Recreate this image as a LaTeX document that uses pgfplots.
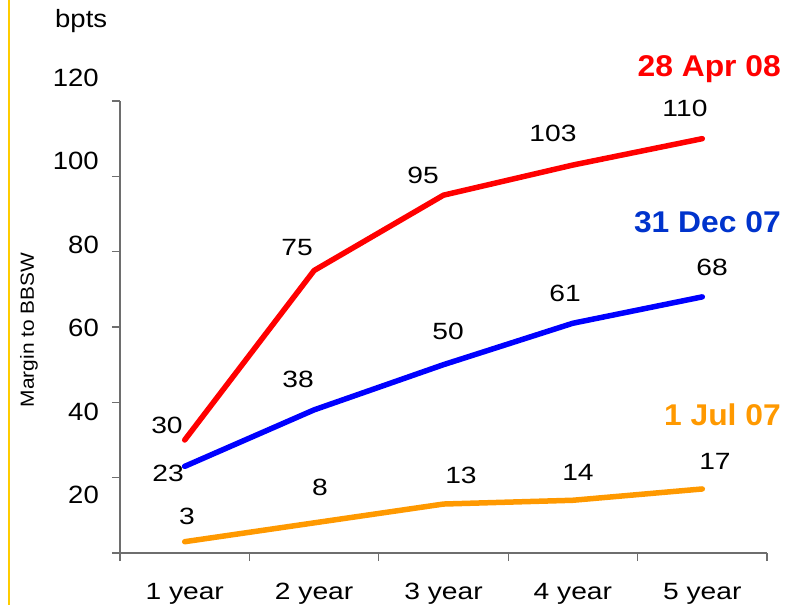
\documentclass[border=0pt]{standalone}
\usepackage{pgfplots}
\pgfplotsset{compat=1.18}
\usepackage{fontspec}
\setmainfont{Liberation Sans}
\newfontfamily\lab{Liberation Sans}[FakeStretch=1.2]
\newfontfamily\tk{Liberation Sans}[FakeStretch=1.1]
\newfontfamily\ttl{Liberation Sans}[FakeStretch=1.06]
\definecolor{lred}{RGB}{255,0,0}
\definecolor{lblue}{RGB}{0,0,255}
\definecolor{lorange}{RGB}{255,153,0}
\definecolor{tblue}{RGB}{0,51,204}
\definecolor{gold}{RGB}{255,204,0}
\definecolor{axgray}{RGB}{110,110,110}
\begin{document}
\begin{tikzpicture}
\useasboundingbox (0,0) rectangle (800pt,605pt);
\draw[gold, line width=2pt] (9pt,0) -- (9pt,605pt);
% y tick labels (placed as in the reference)
\begin{axis}[at={(120pt,26.8pt)}, anchor=south west, scale only axis,
  width=647pt, height=500.4pt, ymin=0, ymax=120, xmin=0, xmax=1,
  hide x axis, axis y line*=left, y axis line style={draw=none},
  ytick={20,40,60,80,100,120}, major tick length=0pt,
  yticklabel style={anchor=east, inner sep=0pt, xshift=-21pt, font=\tk\fontsize{25}{28}\selectfont},
  /pgf/number format/assume math mode=true]
\end{axis}
\begin{axis}[at={(120pt,52pt)}, anchor=south west, scale only axis,
  width=647pt, height=452pt, xmin=0.5, xmax=5.5, ymin=0, ymax=120,
  axis lines=left, axis line style={-, axgray, line width=1.2pt},
  xtick={0.5,1.5,2.5,3.5,4.5,5.5}, ytick={0,20,40,60,80,100,120},
  xticklabels={}, yticklabels={},
  tick align=outside, major tick length=8pt,
  tick style={axgray, line width=1.2pt},
  clip=false]
\addplot[lorange, line width=5.5pt, line cap=round, line join=round] coordinates {(1,3)(2,8)(3,13)(4,14)(5,17)};
\addplot[lblue, line width=5.5pt, line cap=round, line join=round] coordinates {(1,23)(2,38)(3,50)(4,61)(5,68)};
\addplot[lred, line width=5.5pt, line cap=round, line join=round] coordinates {(1,30)(2,75)(3,95)(4,103)(5,110)};
\begin{scope}[every node/.style={font=\lab\fontsize{23.5}{26}\selectfont, inner sep=0pt}]
\node at (axis cs:0.863,34.0) {30};
\node at (axis cs:1.868,81.2) {75};
\node at (axis cs:2.842,100.3) {95};
\node at (axis cs:3.846,111.5) {103};
\node at (axis cs:4.866,117.9) {110};
\node at (axis cs:0.871,21.2) {23};
\node at (axis cs:1.876,46.2) {38};
\node at (axis cs:3.035,58.9) {50};
\node at (axis cs:3.939,69.0) {61};
\node at (axis cs:5.075,75.7) {68};
\node at (axis cs:1.018,9.6) {3};
\node at (axis cs:2.046,17.5) {8};
\node at (axis cs:3.135,20.7) {13};
\node at (axis cs:4.039,21.5) {14};
\node at (axis cs:5.098,24.2) {17};
\node[anchor=base] at (axis cs:1,0) [yshift=-46pt] {1 year};
\node[anchor=base] at (axis cs:2,0) [yshift=-46pt] {2 year};
\node[anchor=base] at (axis cs:3,0) [yshift=-46pt] {3 year};
\node[anchor=base] at (axis cs:4,0) [yshift=-46pt] {4 year};
\node[anchor=base] at (axis cs:5,0) [yshift=-46pt] {5 year};
\end{scope}
\end{axis}
\node[anchor=base west, inner sep=0pt, font=\tk\fontsize{25}{28}\selectfont] at (55pt,577pt) {bpts};
\node[rotate=90, inner sep=0pt, font=\tk\fontsize{19}{22}\selectfont] at (29pt,275pt) {Margin to BBSW};
\node[anchor=base east, inner sep=0pt, text=lred, font=\ttl\bfseries\fontsize{30}{34}\selectfont] at (781pt,528pt) {28 Apr 08};
\node[anchor=base east, inner sep=0pt, text=tblue, font=\ttl\bfseries\fontsize{30}{34}\selectfont] at (781pt,372pt) {31 Dec 07};
\node[anchor=base east, inner sep=0pt, text=lorange, font=\ttl\bfseries\fontsize{30}{34}\selectfont] at (781pt,179pt) {1 Jul 07};
\end{tikzpicture}
\end{document}
